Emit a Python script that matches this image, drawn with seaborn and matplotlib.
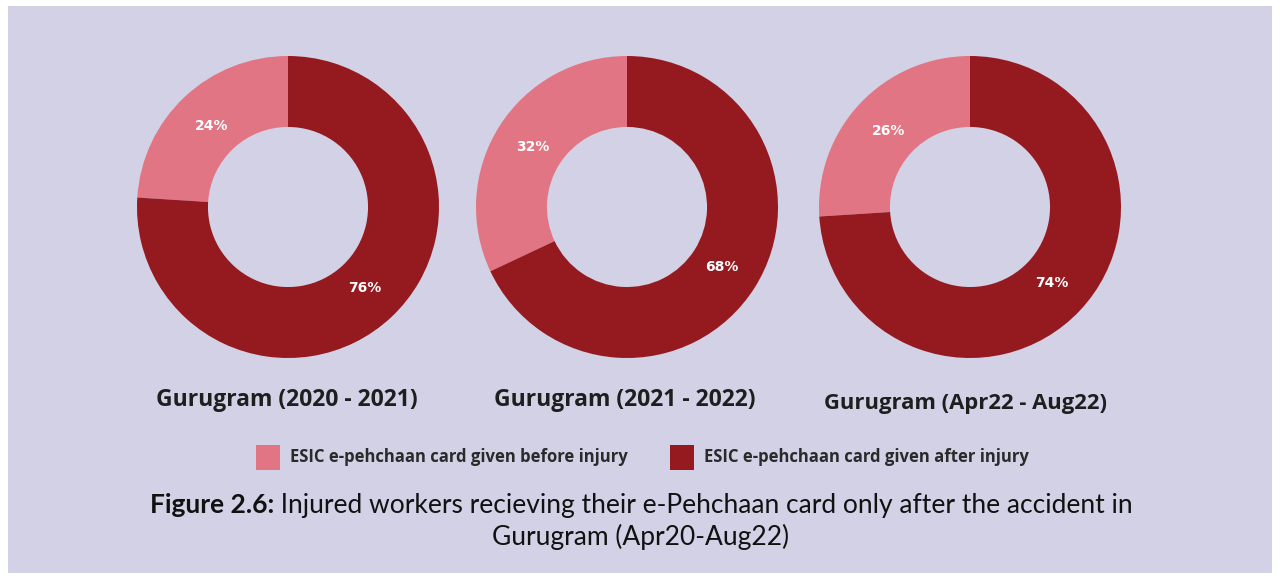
# Injured workers e-Pehchaan card donuts (Gurugram)
import matplotlib
matplotlib.use("Agg")
import matplotlib.pyplot as plt
import seaborn as sns
from matplotlib.patches import Rectangle

# data
periods = ["Gurugram (2020 - 2021)", "Gurugram (2021 - 2022)", "Gurugram (Apr22 - Aug22)"]
before_injury = [24, 32, 26]
after_injury = [76, 68, 74]
legend_labels = ["ESIC e-pehchaan card given before injury", "ESIC e-pehchaan card given after injury"]

sns.set_style("white")
plt.rcParams["font.family"] = ["Lato", "DejaVu Sans"]

colors = ["#e27583", "#951a1f"]
bg = "#d3d1e6"

W, H = 1280, 579
fig = plt.figure(figsize=(W / 100, H / 100), dpi=100)
fig.patch.set_facecolor("white")
fig.patches.append(Rectangle((8 / W, 6 / H), 1264 / W, 567 / H, transform=fig.transFigure,
                             facecolor=bg, edgecolor="none", zorder=-5))

centers_x = [288, 627, 970]
cy, r = 207, 151
title_y = [400, 400, 404]
title_x = [287, 625, 965]
title_size = [16.5, 16.5, 15.8]

for i in range(3):
    ax = fig.add_axes([(centers_x[i] - r) / W, (H - cy - r) / H, 2 * r / W, 2 * r / H])
    ax.set_facecolor("none")
    ax.set_zorder(2)
    vals = [before_injury[i], after_injury[i]]
    wedges, texts, autotexts = ax.pie(vals, colors=colors, startangle=90, counterclock=True,
                                      autopct="%d%%", pctdistance=0.74,
                                      wedgeprops=dict(width=0.47, edgecolor="none"),
                                      textprops=dict(color="white", fontsize=10, fontweight="bold",
                                                     family=["DejaVu Sans"]))
    ax.set_xlim(-1, 1)
    ax.set_ylim(-1, 1)
    ax.axis("off")
    fig.text(title_x[i] / W, 1 - title_y[i] / H, periods[i], ha="center", va="center",
             fontsize=title_size[i], fontweight="bold", color="#1e1e1e",
             family=["Open Sans", "DejaVu Sans"])

# legend
leg_x = [256, 670]
for j in range(2):
    fig.patches.append(Rectangle((leg_x[j] / W, 1 - 470 / H), 24 / W, 25 / H, transform=fig.transFigure,
                                 facecolor=colors[j], edgecolor="none", zorder=1))
    fig.text((leg_x[j] + 34) / W, 1 - 457 / H, legend_labels[j], ha="left", va="center",
             fontsize=12, fontweight="bold", color="#2a2a2a", family=["Open Sans", "DejaVu Sans"])

# caption with bold prefix
renderer = fig.canvas.get_renderer()
t1 = fig.text(0, 1 - 505 / H, "Figure 2.6:", ha="left", va="center", fontsize=19,
              fontweight="bold", color="#111111")
t2 = fig.text(0, 1 - 505 / H, " Injured workers recieving their e-Pehchaan card only after the accident in",
              ha="left", va="center", fontsize=19, color="#111111")
w1 = t1.get_window_extent(renderer).width
w2 = t2.get_window_extent(renderer).width
start = (641 - (w1 + w2) / 2)
t1.set_x(start / W)
t2.set_x((start + w1) / W)
fig.text(641 / W, 1 - 537 / H, "Gurugram (Apr20-Aug22)", ha="center", va="center",
         fontsize=19, color="#111111")

fig.savefig("out.png", dpi=100, facecolor="white")
